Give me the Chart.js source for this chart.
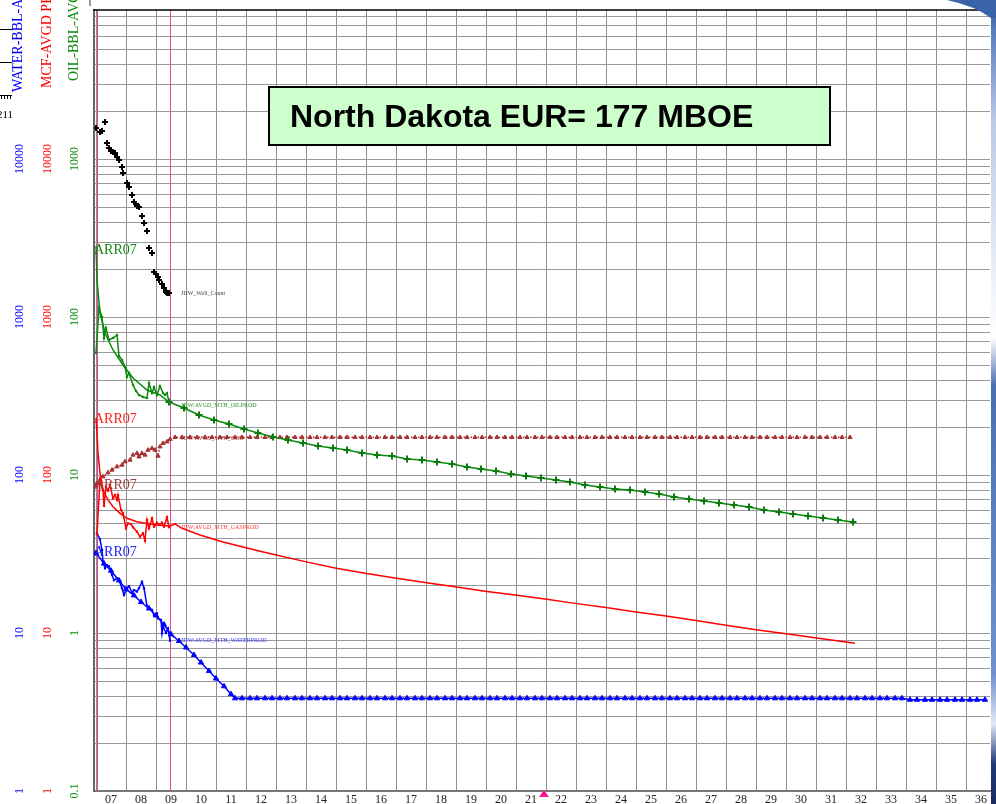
<!DOCTYPE html>
<html><head><meta charset="utf-8">
<script src="https://cdn.jsdelivr.net/npm/chart.js@4.4.1/dist/chart.umd.min.js"></script>
<style>html,body{margin:0;padding:0;background:#fff;}canvas{display:block;}</style>
</head><body>
<canvas id="c" width="996" height="804"></canvas>
<script>
// ---------------- DATA ----------------
const yearTicks = [2007,2008,2009,2010,2011,2012,2013,2014,2015,2016,2017,2018,2019,2020,2021,2022,2023,2024,2025,2026,2027,2028,2029,2030,2031,2032,2033,2034,2035,2036];
const yearTickLabels = ['07','08','09','10','11','12','13','14','15','16','17','18','19','20','21','22','23','24','25','26','27','28','29','30','31','32','33','34','35','36'];
const waterTickValues = [1,10,100,1000,10000];
const gasTickValues = [1,10,100,1000,10000];
const oilTickValues = [0.1,1,10,100,1000];
const markerYears = [2007.03, 2009.47];
const todayYear = 2021.93;

// JDW_Well_Count (oil axis)
const wellYears = [2007.00,2007.13,2007.20,2007.29,2007.36,2007.44,2007.51,2007.58,2007.62,2007.69,2007.78,2007.86,2007.91,2008.02,2008.11,2008.19,2008.27,2008.33,2008.38,2008.44,2008.52,2008.60,2008.71,2008.78,2008.87,2008.94,2009.00,2009.06,2009.11,2009.19,2009.27,2009.33,2009.38,2009.42];
const wellCount = [1564,1489,1504,1708,1257,1169,1128,1103,1096,1025,985,894,812,708,662,592,537,519,504,494,436,392,352,272,253,194,187,180,171,161,152,143,141,141];

// Oil actual monthly
const oilActYears = [2007.00,2007.11,2007.19,2007.27,2007.33,2007.44,2007.56,2007.69,2007.78,2007.86,2007.97,2008.02,2008.11,2008.22,2008.33,2008.44,2008.58,2008.69,2008.78,2008.86,2008.93,2009.02,2009.13,2009.22,2009.30,2009.38,2009.44];
const oilActValues = [59.2,114,100,73.6,85.2,71.5,73.6,76.9,56.6,53.4,48.5,41.9,44.2,37.1,34.2,32.1,31.3,30.8,38.2,33.0,36.2,32.1,36.6,33.0,32.1,33.0,29.1];

// Oil fit + forecast
const oilFitYears = [2007.00,2007.02,2007.13,2007.30,2007.57,2007.90,2008.23,2008.70,2009.13,
 2009.44,2009.94,2010.43,2010.93,2011.42,2011.92,2012.41,2012.91,2013.40,2013.90,
 2014.39,2014.89,2015.38,2015.88,2016.37,2016.87,2017.36,2017.86,2018.36,2018.85,
 2019.35,2019.84,2020.34,2020.83,2021.33,2021.82,2022.32,2022.81,2023.31,2023.80,
 2024.30,2024.79,2025.29,2025.78,2026.28,2026.78,2027.27,2027.77,2028.26,2028.76,
 2029.25,2029.75,2030.24,2030.74,2031.23,2031.73,2032.22];
const oilFitValues = [280,171,106,79.2,61.8,49.7,41.1,34.5,32.1,
 29.1,26.5,24.0,22.3,21.0,19.5,18.4,17.5,16.7,16.0,
 15.3,14.8,14.3,13.8,13.4,13.1,12.7,12.4,12.0,11.7,
 11.3,10.9,10.6,10.2,9.9,9.6,9.3,9.0,8.7,8.45,
 8.2,8.0,7.77,7.53,7.29,7.06,6.85,6.65,6.44,6.24,
 6.04,5.86,5.70,5.53,5.37,5.21,5.04];

// Gas actual monthly (MCF)
const gasActYears = [2007.04,2007.13,2007.22,2007.27,2007.33,2007.41,2007.47,2007.56,2007.63,2007.69,2007.74,2007.82,2007.91,2008.00,2008.08,2008.16,2008.24,2008.36,2008.47,2008.56,2008.63,2008.71,2008.78,2008.86,2008.93,2009.02,2009.11,2009.19,2009.27,2009.38,2009.44];
const gasActValues = [42.2,92.9,80.4,63.7,84.3,79.6,86.4,71.2,74.7,69.5,74.7,60.0,57.2,46.0,49.4,48.9,46.7,43.8,40.7,42.8,38.4,51.9,46.0,53.2,47.1,49.9,48.3,49.9,47.1,54.0,46.7];

// Gas fit + forecast
const gasFitYears = [2007.00,2007.03,2007.08,2007.13,2007.24,2007.41,2007.58,2007.80,2008.02,2008.36,2008.69,2009.02,2009.47,2009.62,2009.86,2010.47,2011.23,2012.36,
 2012.94,2013.94,2014.95,2015.95,2016.96,2017.96,2018.97,2019.97,2020.97,2021.98,2022.98,2023.99,2024.99,2026.00,2027.00,2028.00,2029.01,2030.01,2030.95,2032.29];
const gasFitValues = [230,184,138,103,80.4,69.5,63.0,57.2,53.2,50.6,49.4,48.3,47.6,49.0,46.0,41.7,37.7,33.3,
 31.4,28.4,25.8,23.9,22.3,20.9,19.6,18.4,17.4,16.4,15.4,14.5,13.6,12.8,12.0,11.2,10.5,9.9,9.34,8.6];

// Water actual monthly
const waterActYears = [2007.02,2007.13,2007.19,2007.24,2007.30,2007.36,2007.44,2007.52,2007.60,2007.69,2007.78,2007.86,2007.93,2008.02,2008.11,2008.19,2008.27,2008.36,2008.44,2008.52,2008.60,2008.69,2008.78,2008.86,2008.93,2009.02,2009.08,2009.16,2009.19,2009.24,2009.33,2009.41,2009.47];
const waterActValues = [42.8,39.2,33.5,28.3,25.7,26.9,26.4,23.3,21.6,22.2,21.6,19.2,17.4,19.2,19.8,18.0,18.7,18.3,19.2,21.1,19.2,14.8,14.3,14.0,13.0,13.3,12.4,12.1,9.95,11.0,10.0,10.7,8.94];

// Water fit + forecast
const waterFitYears = [2007.00,2007.25,2007.50,2007.75,2008.00,2008.25,2008.50,2008.75,2009.00,2009.25,
 2009.50,2009.75,2010.00,2010.25,2010.50,2010.75,2011.00,2011.25,2011.50,2011.62,
 2011.87,
 2012.12,2012.37,2012.62,2012.87,2013.12,2013.37,2013.62,2013.87,
 2014.12,2014.37,2014.62,2014.87,2015.12,2015.37,2015.62,2015.87,
 2016.12,2016.37,2016.62,2016.87,2017.12,2017.37,2017.62,2017.87,
 2018.12,2018.37,2018.62,2018.87,2019.12,2019.37,2019.62,2019.87,
 2020.12,2020.37,2020.62,2020.87,2021.12,2021.37,2021.62,2021.87,
 2022.12,2022.37,2022.62,2022.87,2023.12,2023.37,2023.62,2023.87,
 2024.12,2024.37,2024.62,2024.87,2025.12,2025.37,2025.62,2025.87,
 2026.12,2026.37,2026.62,2026.87,2027.12,2027.37,2027.62,2027.87,
 2028.12,2028.37,2028.62,2028.87,2029.12,2029.37,2029.62,2029.87,
 2030.12,2030.37,2030.62,2030.87,2031.12,2031.37,2031.62,2031.87,
 2032.12,2032.37,2032.62,2032.87,2033.12,2033.37,2033.62,2033.87,
 2034.12,2034.37,2034.62,2034.87,2035.12,2035.37,2035.62,2035.87,
 2036.12,2036.37,2036.62];
const waterFitValues = [32.1,27.5,24.8,21.5,18.9,17.3,15.7,14.3,12.9,11.3,
 9.8,8.9,8.1,7.25,6.5,5.75,5.15,4.6,4.1,3.86,
 3.86,3.86,3.86,3.86,3.86,3.86,3.86,3.86,3.86,3.86,
 3.86,3.86,3.86,3.86,3.86,3.86,3.86,3.86,3.86,3.86,
 3.86,3.86,3.86,3.86,3.86,3.86,3.86,3.86,3.86,3.86,
 3.86,3.86,3.86,3.86,3.86,3.86,3.86,3.86,3.86,3.86,
 3.86,3.86,3.86,3.86,3.86,3.86,3.86,3.86,3.86,3.86,
 3.86,3.86,3.86,3.86,3.86,3.86,3.86,3.86,3.86,3.86,
 3.86,3.86,3.86,3.86,3.86,3.86,3.86,3.86,3.86,3.86,
 3.86,3.86,3.86,3.86,3.86,3.86,3.86,3.86,3.86,3.86,
 3.86,3.86,3.86,3.86,3.86,3.86,3.86,3.86,3.86,
 3.78,3.78,3.78,3.78,3.78,3.78,3.78,3.78,3.78,3.78,
 3.78];

// Brown ratio series (gas axis)
const brownYears = [2007.00,2007.04,2007.13,2007.24,2007.41,2007.52,2007.69,2007.86,2007.97,2008.13,2008.24,2008.36,2008.44,2008.52,2008.63,2008.74,2008.86,2008.97,2009.08,2009.13,2009.24,2009.36,2009.47,2009.63,
 2009.88,
 2010.13,2010.38,2010.63,2010.88,2011.13,2011.38,2011.63,2011.88,
 2012.13,2012.38,2012.63,2012.88,2013.13,2013.38,2013.63,2013.88,
 2014.13,2014.38,2014.63,2014.88,2015.13,2015.38,2015.63,2015.88,
 2016.13,2016.38,2016.63,2016.88,2017.13,2017.38,2017.63,2017.88,
 2018.13,2018.38,2018.63,2018.88,2019.13,2019.38,2019.63,2019.88,
 2020.13,2020.38,2020.63,2020.88,2021.13,2021.38,2021.63,2021.88,
 2022.13,2022.38,2022.63,2022.88,2023.13,2023.38,2023.63,2023.88,
 2024.13,2024.38,2024.63,2024.88,2025.13,2025.38,2025.63,2025.88,
 2026.13,2026.38,2026.63,2026.88,2027.13,2027.38,2027.63,2027.88,
 2028.13,2028.38,2028.63,2028.88,2029.13,2029.38,2029.63,2029.88,
 2030.13,2030.38,2030.63,2030.88,2031.13,2031.38,2031.63,2031.88,
 2032.13];
const brownValues = [85.2,88.6,92.9,97.6,103.5,107.6,112.9,115.7,121.4,124.4,133.9,137.2,130.6,137.2,133.9,143.9,147.5,143.9,131.9,151.0,158.7,162.4,168.2,173.2,
 173.2,173.2,173.2,173.2,173.2,173.2,173.2,173.2,173.2,173.2,
 173.2,173.2,173.2,173.2,173.2,173.2,173.2,173.2,173.2,173.2,
 173.2,173.2,173.2,173.2,173.2,173.2,173.2,173.2,173.2,173.2,
 173.2,173.2,173.2,173.2,173.2,173.2,173.2,173.2,173.2,173.2,
 173.2,173.2,173.2,173.2,173.2,173.2,173.2,173.2,173.2,173.2,
 173.2,173.2,173.2,173.2,173.2,173.2,173.2,173.2,173.2,173.2,
 173.2,173.2,173.2,173.2,173.2,173.2,173.2,173.2,173.2,173.2,
 173.2,173.2,173.2,173.2,173.2,173.2,173.2,173.2,173.2,173.2,
 173.2,173.2,173.2,173.2,173.2,173.2,173.2,173.2,173.2,173.2];

// ---------------- CHART ----------------
const SERIF = "'Liberation Serif','Times New Roman',serif";
const SANS = "'Liberation Sans',Arial,sans-serif";
const GREEN = '#0b8a0b', RED = '#ff0000', BLUE = '#0000ff', BROWN = '#a83232';

function pts(xs, ys) { return xs.map((x, i) => ({x: x, y: ys[i]})); }

const oilGrid = [];
[0.1, 1, 10, 100, 1000].forEach(d => { for (let m = 1; m <= 9; m++) { const v = +(d * m).toPrecision(6); if (v < 8770) oilGrid.push(v); } });

function vtext(ctx, text, x, y, align) {
  ctx.save(); ctx.translate(x, y); ctx.rotate(-Math.PI / 2);
  ctx.textAlign = align; ctx.textBaseline = 'middle'; ctx.fillText(text, 0, 0); ctx.restore();
}

const deco = {
  id: 'deco',
  beforeDatasetsDraw(chart) {
    const {ctx, chartArea: a, scales: {x}} = chart;
    ctx.save();
    ctx.strokeStyle = '#e0489a'; ctx.lineWidth = 1;
    markerYears.forEach(v => {
      const px = Math.round(x.getPixelForValue(v)) + 0.5;
      ctx.beginPath(); ctx.moveTo(px, a.top); ctx.lineTo(px, a.bottom); ctx.stroke();
    });
    ctx.restore();
  },
  afterDraw(chart) {
    const {ctx, chartArea: a, scales} = chart;
    const x = scales.x, yO = scales.yOil, yG = scales.yGas, yW = scales.yWater;
    ctx.save();
    // top border
    ctx.strokeStyle = '#000'; ctx.lineWidth = 1.5;
    ctx.beginPath(); ctx.moveTo(a.left - 1, a.top); ctx.lineTo(a.right, a.top); ctx.stroke();

    // left axis tick labels (rotated)
    ctx.font = '12px ' + SERIF;
    ctx.fillStyle = BLUE; waterTickValues.forEach(v => vtext(ctx, String(v), 19.5, yW.getPixelForValue(v), 'center'));
    ctx.fillStyle = RED; gasTickValues.forEach(v => vtext(ctx, String(v), 47.5, yG.getPixelForValue(v), 'center'));
    ctx.fillStyle = GREEN; oilTickValues.forEach(v => vtext(ctx, String(v), 75, yO.getPixelForValue(v), 'center'));
    // axis titles
    ctx.font = '14px ' + SERIF;
    ctx.fillStyle = BLUE; vtext(ctx, 'WATER-BBL-AVGD PER WELL', 18.5, 92, 'left');
    ctx.fillStyle = RED; vtext(ctx, 'MCF-AVGD PER WELL', 47.5, 88, 'left');
    ctx.fillStyle = GREEN; vtext(ctx, 'OIL-BBL-AVGD PER WELL', 74.5, 81, 'left');

    // cut-off fragments top-left
    ctx.strokeStyle = '#000'; ctx.lineWidth = 1;
    [29.5, 62.5, 95.5].forEach(yy => { ctx.beginPath(); ctx.moveTo(0, yy); ctx.lineTo(12, yy); ctx.stroke(); });
    [1.5, 4.5, 7.5, 10.5].forEach(xx => { ctx.beginPath(); ctx.moveTo(xx, 95); ctx.lineTo(xx, 99); ctx.stroke(); });
    ctx.fillStyle = '#000'; ctx.font = '11px ' + SERIF; ctx.textAlign = 'right'; ctx.textBaseline = 'alphabetic';
    ctx.fillText('211', 13, 118);
    ctx.strokeStyle = '#999'; ctx.lineWidth = 2;
    ctx.beginPath(); ctx.moveTo(90, 0); ctx.lineTo(90, 6); ctx.stroke();

    // ARR07 labels at start of fits
    ctx.font = '14px ' + SERIF; ctx.textAlign = 'left'; ctx.textBaseline = 'middle';
    ctx.fillStyle = '#138a13'; ctx.fillText('ARR07', 94, yO.getPixelForValue(oilFitValues[0]) + 4);
    ctx.fillStyle = '#ff2020'; ctx.fillText('ARR07', 94, yG.getPixelForValue(gasFitValues[0]) + 1);
    ctx.fillStyle = '#9c4040'; ctx.fillText('ARR07', 94, yG.getPixelForValue(brownValues[0]) - 1);
    ctx.fillStyle = '#2020ff'; ctx.fillText('ARR07', 94, yW.getPixelForValue(waterFitValues[0]) - 1);

    // tiny series labels
    ctx.font = '6px ' + SERIF;
    const lx = x.getPixelForValue(2009.83);
    ctx.fillStyle = '#444'; ctx.fillText('JDW_Well_Count', lx, yO.getPixelForValue(wellCount[wellCount.length - 1]));
    ctx.fillStyle = '#2a9a2a'; ctx.fillText('JDW:AVGD_MTH_OILPROD', lx, yO.getPixelForValue(oilFitValues[9]) + 3);
    ctx.fillStyle = '#a04040'; ctx.fillText('JDW:AVGD_MTH_GOR', lx, yG.getPixelForValue(173.2) + 1);
    ctx.fillStyle = '#ff4040'; ctx.fillText('JDW:AVGD_MTH_GASPROD', lx, yG.getPixelForValue(gasFitValues[12]) + 1);
    ctx.fillStyle = '#4040ff'; ctx.fillText('JDW:AVGD_MTH_WATERPROD', lx, yW.getPixelForValue(waterActValues[waterActValues.length - 1]));

    // title box
    ctx.fillStyle = '#ccffcc'; ctx.fillRect(269, 87, 561, 58);
    ctx.strokeStyle = '#000'; ctx.lineWidth = 2; ctx.strokeRect(269, 87, 561, 58);
    ctx.fillStyle = '#000'; ctx.font = 'bold 32px ' + SANS; ctx.textAlign = 'left'; ctx.textBaseline = 'alphabetic';
    ctx.fillText('North Dakota EUR= 177 MBOE', 290, 127);

    // pink "today" triangle on x axis
    const tx = x.getPixelForValue(todayYear);
    ctx.fillStyle = '#ff1493';
    ctx.beginPath(); ctx.moveTo(tx, a.bottom - 1); ctx.lineTo(tx + 5, a.bottom + 6); ctx.lineTo(tx - 5, a.bottom + 6); ctx.closePath(); ctx.fill();

    // right edge background fragment
    const g = ctx.createLinearGradient(0, 0, 0, 804);
    g.addColorStop(0, '#2f5597'); g.addColorStop(0.04, '#5a7fbf'); g.addColorStop(0.15, '#b9c9e6');
    g.addColorStop(0.42, '#ffffff'); g.addColorStop(0.48, '#4a6fb3'); g.addColorStop(0.84, '#6f92cf');
    g.addColorStop(0.9, '#dfe8f6'); g.addColorStop(0.95, '#1f3a78'); g.addColorStop(1, '#182c60');
    ctx.fillStyle = g; ctx.fillRect(991, 0, 5, 804);
    ctx.fillStyle = '#3a62a8';
    ctx.beginPath(); ctx.moveTo(947, 0); ctx.quadraticCurveTo(975, 6, 991, 18); ctx.lineTo(996, 18); ctx.lineTo(996, 0); ctx.closePath(); ctx.fill();
    ctx.restore();
  }
};

new Chart(document.getElementById('c'), {
  type: 'scatter',
  data: {
    datasets: [
      {label: 'JDW_Well_Count', data: pts(wellYears, wellCount), yAxisID: 'yOil', showLine: false,
       pointStyle: 'cross', pointRadius: 3, pointBorderWidth: 2, pointBorderColor: '#000', pointBackgroundColor: '#000'},
      {label: 'Oil actual', data: pts(oilActYears, oilActValues), yAxisID: 'yOil', showLine: true,
       borderColor: GREEN, borderWidth: 1.5, pointStyle: 'rect', pointRadius: 1.6, pointBorderWidth: 0, pointBackgroundColor: GREEN},
      {label: 'Oil fit', data: pts(oilFitYears, oilFitValues), yAxisID: 'yOil', showLine: true,
       borderColor: GREEN, borderWidth: 1.5, pointStyle: 'cross',
       pointRadius: c => (c.raw && c.raw.x >= 2009.4) ? 3.5 : 0, pointBorderWidth: 2, pointBorderColor: '#0a7a0a'},
      {label: 'Gas actual', data: pts(gasActYears, gasActValues), yAxisID: 'yGas', showLine: true,
       borderColor: RED, borderWidth: 1.5, pointStyle: 'rect', pointRadius: 1.6, pointBorderWidth: 0, pointBackgroundColor: RED},
      {label: 'Gas fit', data: pts(gasFitYears, gasFitValues), yAxisID: 'yGas', showLine: true,
       borderColor: RED, borderWidth: 1.5, pointRadius: 0},
      {label: 'Ratio', data: pts(brownYears, brownValues), yAxisID: 'yGas', showLine: true,
       borderColor: BROWN, borderWidth: 1.5, borderDash: [1.5, 2], pointStyle: 'triangle', pointRadius: 2.4,
       pointBorderWidth: 1, pointBorderColor: BROWN, pointBackgroundColor: BROWN},
      {label: 'Water actual', data: pts(waterActYears, waterActValues), yAxisID: 'yWater', showLine: true,
       borderColor: BLUE, borderWidth: 1.5, pointStyle: 'rect', pointRadius: 1.6, pointBorderWidth: 0, pointBackgroundColor: BLUE},
      {label: 'Water fit', data: pts(waterFitYears, waterFitValues), yAxisID: 'yWater', showLine: true,
       borderColor: BLUE, borderWidth: 1.5, pointStyle: 'triangle', pointRadius: 3,
       pointBorderWidth: 1, pointBorderColor: BLUE, pointBackgroundColor: BLUE}
    ]
  },
  options: {
    responsive: false, animation: false, events: [],
    layout: {padding: {left: 94, right: 6, top: 10, bottom: 0}},
    elements: {line: {tension: 0}},
    plugins: {legend: {display: false}, tooltip: {enabled: false}},
    scales: {
      x: {
        type: 'linear', min: 2006.933, max: 2036.8, alignToPixels: true,
        afterBuildTicks: s => { s.ticks = yearTicks.map(v => ({value: v})); },
        afterFit: s => { s.height = 13; },
        ticks: {autoSkip: false, maxRotation: 0, minRotation: 0, labelOffset: 15, padding: 2,
          color: '#222', font: {family: SERIF, size: 12},
          callback: (v, i) => yearTickLabels[i]},
        grid: {color: '#8f8f8f', lineWidth: 1, drawTicks: false},
        border: {display: true, color: '#777', width: 2}
      },
      yOil: {
        type: 'logarithmic', position: 'left', min: 0.1, max: 8770, alignToPixels: true,
        afterBuildTicks: s => { s.ticks = oilGrid.map(v => ({value: v})); },
        afterFit: s => { s.width = 0; },
        ticks: {display: false},
        grid: {color: '#9a9a9a', lineWidth: 1, drawTicks: false},
        border: {display: true, color: '#666', width: 2}
      },
      yGas: {type: 'logarithmic', display: false, min: 1, max: 87700},
      yWater: {type: 'logarithmic', display: false, min: 1, max: 87700}
    }
  },
  plugins: [deco]
});
</script>
</body></html>
